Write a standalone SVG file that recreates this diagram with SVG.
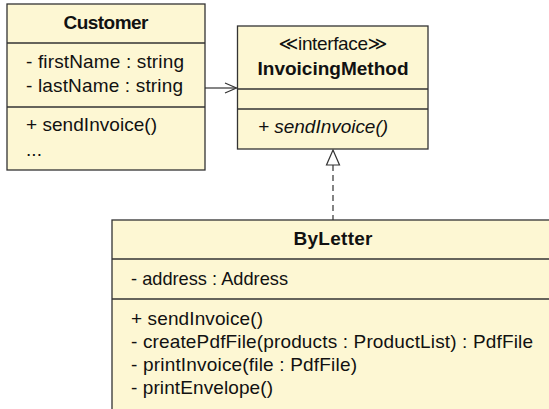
<svg xmlns="http://www.w3.org/2000/svg" width="549" height="409" viewBox="0 0 549 409">
  <style>
    .box { fill: #fdf7d3; stroke: #333; stroke-width: 1.3; }
    .div { stroke: #333; stroke-width: 1.3; }
    text { font-family: "Liberation Sans", "DejaVu Sans", sans-serif; font-size: 19px; fill: #111; }
    .title { font-weight: bold; text-anchor: middle; }
    .center { text-anchor: middle; }
    .it { font-style: italic; }
    .edge { stroke: #333; stroke-width: 1.2; fill: none; }
  </style>
  <rect width="549" height="409" fill="#fff"/>

  <g id="connectors">
    <!-- association Customer -> InvoicingMethod -->
    <line class="edge" x1="205" y1="88" x2="236.5" y2="88"/>
    <polyline class="edge" points="225,83 236.5,88 225,93"/>
    <!-- realization ByLetter -> InvoicingMethod -->
    <line class="edge" x1="333" y1="165" x2="333" y2="220" stroke-dasharray="6,4"/>
    <polygon points="333,150 326.5,165 339.5,165" fill="#fff" stroke="#333" stroke-width="1.2"/>
  </g>

  <g id="customer">
    <rect class="box" x="7" y="4" width="198" height="166"/>
    <line class="div" x1="7" y1="43" x2="205" y2="43"/>
    <line class="div" x1="7" y1="107" x2="205" y2="107"/>
    <text class="title" x="106" y="29" textLength="85">Customer</text>
    <text x="26" y="68" textLength="158">- firstName : string</text>
    <text x="26" y="92" textLength="157">- lastName : string</text>
    <text x="26" y="131" textLength="131">+ sendInvoice()</text>
    <text x="26" y="156" textLength="16">...</text>
  </g>

  <g id="invoicingMethod">
    <rect class="box" x="237.5" y="26" width="190.5" height="123"/>
    <line class="div" x1="237.5" y1="89" x2="428" y2="89"/>
    <line class="div" x1="237.5" y1="109" x2="428" y2="109"/>
    <text class="center" x="333" y="50" textLength="109">≪interface≫</text>
    <text class="title" x="333" y="75" textLength="151">InvoicingMethod</text>
    <text class="it" x="258" y="133" textLength="130">+ sendInvoice()</text>
  </g>

  <g id="byLetter">
    <rect class="box" x="112" y="220" width="460" height="200"/>
    <line class="div" x1="112" y1="259" x2="572" y2="259"/>
    <line class="div" x1="112" y1="299" x2="572" y2="299"/>
    <text class="title" x="333" y="245" textLength="79">ByLetter</text>
    <text x="131" y="285" textLength="157" lengthAdjust="spacingAndGlyphs">- address : Address</text>
    <text x="131" y="325" textLength="132">+ sendInvoice()</text>
    <text x="131" y="348" textLength="402">- createPdfFile(products : ProductList) : PdfFile</text>
    <text x="131" y="371" textLength="226">- printInvoice(file : PdfFile)</text>
    <text x="131" y="394" textLength="142">- printEnvelope()</text>
  </g>
</svg>
